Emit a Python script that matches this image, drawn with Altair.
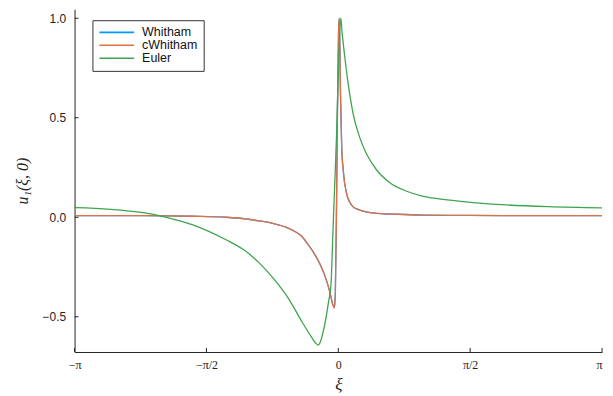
import json
import math
import altair as alt
import pandas as pd

PI = math.pi

# ---- data ----
whitham_xi = [-3.1416, -2.716, -2.327, -1.736, -1.338, -1.102, -0.945, -0.791, -0.591, -0.433,
              -0.354, -0.275, -0.213, -0.157, -0.098, -0.071, -0.047, -0.035, -0.020, -0.008,
              0.004, 0.012, 0.027, 0.041, 0.059, 0.098, 0.138, 0.177, 0.236, 0.334,
              0.472, 0.709, 1.004, 1.535, 2.244, 3.1416]
whitham_u = [0.008, 0.008, 0.008, 0.005, 0.0, -0.008, -0.018, -0.030, -0.056, -0.097,
             -0.140, -0.190, -0.240, -0.297, -0.380, -0.430, -0.455, -0.380, 0.100, 0.600,
             0.950, 1.000, 0.600, 0.350, 0.235, 0.120, 0.075, 0.052, 0.040, 0.027,
             0.020, 0.015, 0.011, 0.009, 0.008, 0.008]

cwhitham_xi = list(whitham_xi)
cwhitham_u = [0.008, 0.008, 0.008, 0.005, 0.0, -0.008, -0.018, -0.030, -0.056, -0.097,
              -0.140, -0.190, -0.240, -0.297, -0.380, -0.430, -0.455, -0.380, 0.100, 0.600,
              0.950, 1.000, 0.600, 0.350, 0.235, 0.120, 0.075, 0.052, 0.040, 0.027,
              0.020, 0.015, 0.011, 0.009, 0.008, 0.008]

euler_xi = [-3.1416, -2.716, -2.323, -2.047, -1.733, -1.338, -1.122, -0.945, -0.768, -0.591,
            -0.433, -0.315, -0.272, -0.242, -0.213, -0.177, -0.118, -0.086, -0.067,
            -0.053, -0.039, -0.020, 0.008, 0.030, 0.045, 0.079, 0.118, 0.177, 0.256,
            0.334, 0.452, 0.611, 0.807, 1.000, 1.200, 1.600, 2.000, 2.500, 3.1416]
euler_u = [0.048, 0.040, 0.023, 0.0, -0.038, -0.113, -0.165, -0.228, -0.310, -0.410,
           -0.525, -0.605, -0.632, -0.642, -0.625, -0.570, -0.430, -0.330, -0.115,
           0.050, 0.200, 0.420, 0.835, 1.000, 0.930, 0.800, 0.670, 0.520, 0.400,
           0.320, 0.240, 0.175, 0.132, 0.106, 0.092, 0.074, 0.062, 0.053, 0.047]

series_names = ["Whitham", "cWhitham", "Euler"]
series_colors = ["#009AFA", "#E36F47", "#3EA44E"]

x_ticks = [-PI, -PI / 2, 0.0, PI / 2, PI]
x_tick_labels = ["−π", "−π/2", "0", "π/2", "π"]
y_ticks = [-0.5, 0.0, 0.5, 1.0]

# ---- build tables ----
rows = []
for name, xs, us in [("Whitham", whitham_xi, whitham_u),
                     ("cWhitham", cwhitham_xi, cwhitham_u),
                     ("Euler", euler_xi, euler_u)]:
    for x, u in zip(xs, us):
        rows.append({"series": name, "xi": x, "u": u})
df = pd.DataFrame(rows)

W, H = 531, 345
x_dom = [-PI, PI]
y_dom = [-0.677, 1.045]

x_scale = alt.Scale(domain=x_dom, nice=False, zero=False)
y_scale = alt.Scale(domain=y_dom, nice=False, zero=False)
color_scale = alt.Scale(domain=series_names, range=series_colors)

label_expr = json.dumps(x_tick_labels, ensure_ascii=False) + "[round(datum.value/(PI/2))+2]"

x_axis = alt.Axis(values=x_ticks, labelExpr=label_expr, title="ξ", grid=False,
                  ticks=False, tickSize=0, labelPadding=8, titlePadding=6,
                  labelFont="Liberation Serif", labelFontSize=12, labelColor="#222",
                  labelAlign={"condition": {"test": "datum.value > 3", "value": "right"},
                              "value": "center"},
                  titleFont="Liberation Serif", titleFontStyle="italic", titleFontSize=17,
                  titleFontWeight="normal", titleColor="#222",
                  domainColor="#222", domainWidth=1, labelFlush=False)
y_axis = alt.Axis(values=y_ticks, format=".1f", title="u₁(ξ, 0)", grid=False,
                  ticks=False, tickSize=0, labelPadding=9, titlePadding=12,
                  labelFont="Liberation Sans", labelFontSize=12, labelColor="#222",
                  titleFont="Liberation Serif", titleFontStyle="italic", titleFontSize=16,
                  titleFontWeight="normal", titleColor="#222",
                  domainColor="#222", domainWidth=1)

legend = alt.Legend(title=None, orient="none", legendX=18, legendY=11,
                    symbolType="stroke", symbolSize=1225, symbolStrokeWidth=1.6,
                    labelFont="Liberation Sans", labelFontSize=12.5, labelColor="#111",
                    labelOffset=7, padding=6, rowPadding=0, clipHeight=12.5,
                    strokeColor="#333", fillColor="white", cornerRadius=0)

layers = []
for name in series_names:
    layer = alt.Chart(df).transform_filter(alt.datum.series == name).mark_line(
        strokeWidth=1.3, interpolate="monotone").encode(
        x=alt.X("xi:Q", scale=x_scale, axis=x_axis),
        y=alt.Y("u:Q", scale=y_scale, axis=y_axis),
        color=alt.Color("series:N", scale=color_scale, legend=legend, sort=series_names),
    )
    layers.append(layer)

# inward tick marks
yt = pd.DataFrame({"v": y_ticks})
xt = pd.DataFrame({"v": x_ticks})
ytick_layer = alt.Chart(yt).mark_rule(color="#222", strokeWidth=1).encode(
    y=alt.Y("v:Q", scale=y_scale, axis=y_axis),
    x=alt.value(0), x2=alt.value(4))
xtick_layer = alt.Chart(xt).mark_rule(color="#222", strokeWidth=1).encode(
    x=alt.X("v:Q", scale=x_scale, axis=x_axis),
    y=alt.value(H), y2=alt.value(H - 4))

chart = alt.layer(*layers, ytick_layer, xtick_layer).properties(
    width=W, height=H, background="white",
    padding={"left": 6, "top": 0, "right": 0, "bottom": 0},
).configure_view(stroke=None)

chart.save("out.html", embed_options={"renderer": "svg", "actions": False})
